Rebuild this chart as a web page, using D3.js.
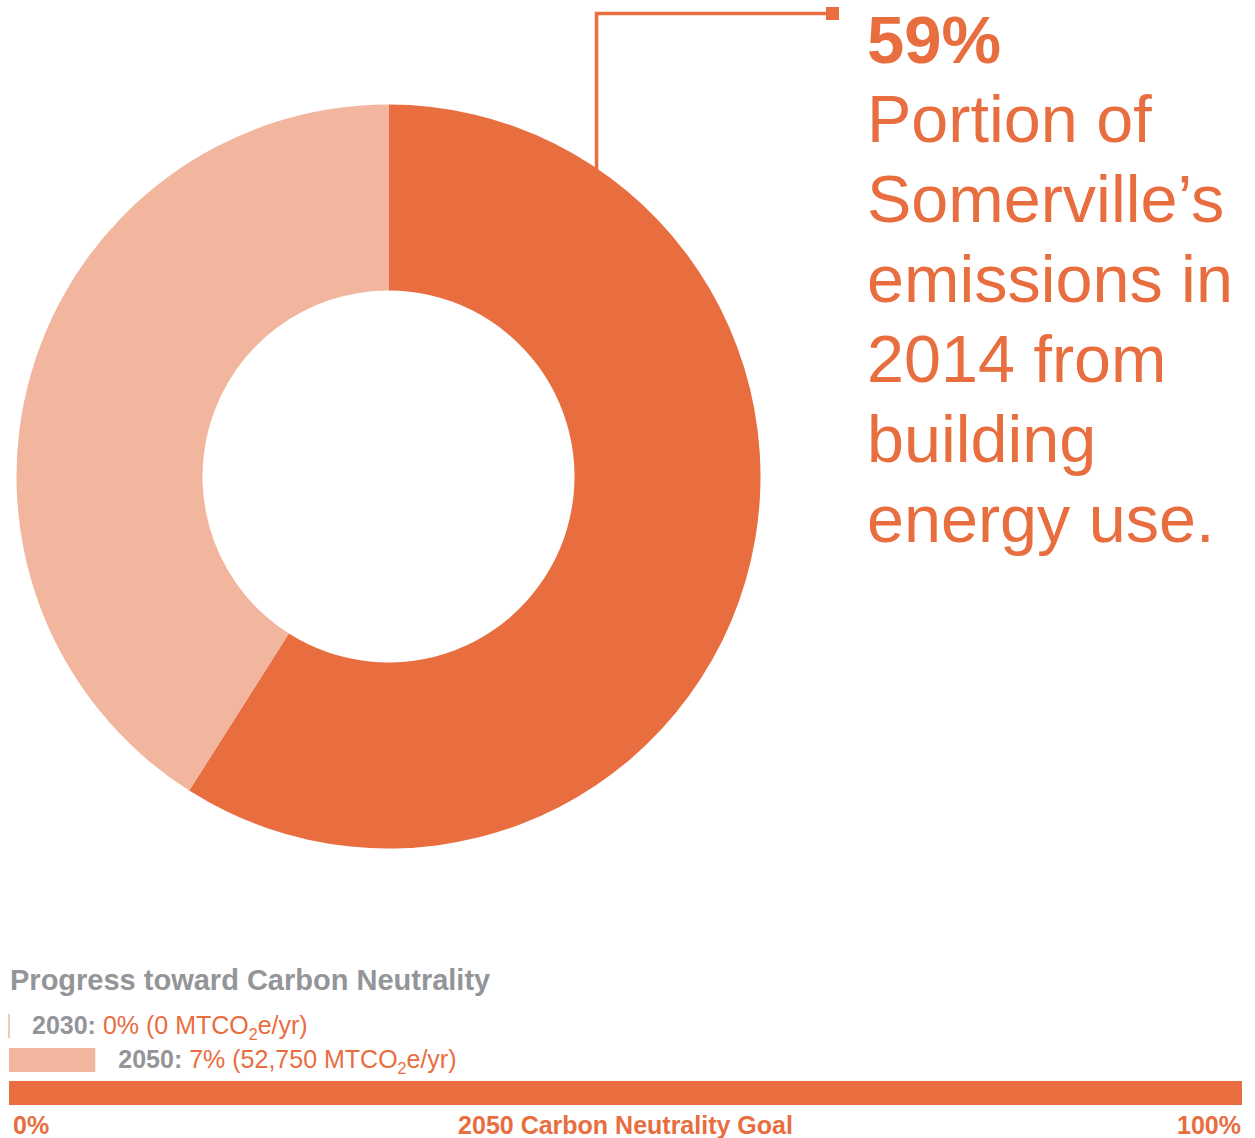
<!DOCTYPE html>
<html>
<head>
<meta charset="utf-8">
<script src="https://cdn.jsdelivr.net/npm/d3@7"></script>
<style>
  html, body { margin: 0; padding: 0; background: #fff; }
  svg { display: block; font-family: "Liberation Sans", Arial, Helvetica, sans-serif; }
</style>
</head>
<body>
<svg id="chart" width="1255" height="1138"></svg>
<script>
// Share of 2014 emissions from building energy use
const sectors = ["Building energy use", "Other sources"];
const shares = [59, 41];
const sectorColors = ["#e86d3f", "#f2b69e"];

// Headline text block
const headline = "59%";
const descriptionLines = ["Portion of", "Somerville\u2019s", "emissions in", "2014 from", "building", "energy use."];

// Progress toward carbon neutrality
const progressYears = ["2030", "2050"];
const progressPct = [0, 7];
const progressTonnes = ["0", "52,750"];
const progressColors = ["#f2b69e", "#f2b69e"];
const goalTicks = ["0%", "2050 Carbon Neutrality Goal", "100%"];

const ORANGE = "#e86d3f";
const GRAY = "#939598";

const svg = d3.select("#chart");

// ---- Donut ----
const cx = 388.5, cy = 476.5, outerR = 372, innerR = 186;
const pie = d3.pie().sort(null).value(d => d);
const arcs = pie(shares);
const arc = d3.arc().innerRadius(innerR).outerRadius(outerR);

const donut = svg.append("g").attr("transform", `translate(${cx},${cy})`);
donut.selectAll("path")
  .data(arcs)
  .join("path")
  .attr("d", arc)
  .attr("fill", (d, i) => sectorColors[i]);

// Leader line from the outer edge of the main slice up to the headline
const leaderAngle = 0.5935; // radians from 12 o'clock, on the building slice
const startX = cx + outerR * Math.sin(leaderAngle);
const startY = cy - outerR * Math.cos(leaderAngle);
const elbowY = 13.5, endX = 832.5;
svg.append("path")
  .attr("d", `M${startX},${startY + 2}V${elbowY}H${endX}`)
  .attr("fill", "none")
  .attr("stroke", ORANGE)
  .attr("stroke-width", 3.5);
svg.append("rect")
  .attr("x", endX - 6.5).attr("y", elbowY - 6.5)
  .attr("width", 13).attr("height", 13)
  .attr("fill", ORANGE);

// Headline and description
const textX = 867;
svg.append("text")
  .attr("x", textX).attr("y", 63)
  .attr("fill", ORANGE)
  .attr("font-size", 67).attr("font-weight", "bold")
  .text(headline);
svg.append("g").selectAll("text")
  .data(descriptionLines)
  .join("text")
  .attr("x", textX)
  .attr("y", (d, i) => 142 + i * 80)
  .attr("fill", ORANGE)
  .attr("font-size", 66.5)
  .text(d => d);

// ---- Progress bars ----
const x = d3.scaleLinear().domain([0, 100]).range([9, 1242]);

svg.append("text")
  .attr("x", 10).attr("y", 990)
  .attr("fill", GRAY)
  .attr("font-size", 29).attr("font-weight", "bold")
  .text("Progress toward Carbon Neutrality");

const rowTop = [1014, 1048];
const rowH = 24;
progressYears.forEach((yr, i) => {
  const w = x(progressPct[i]) - x(0);
  if (w > 0) {
    svg.append("rect")
      .attr("x", x(0)).attr("y", rowTop[i])
      .attr("width", w).attr("height", rowH)
      .attr("fill", progressColors[i]);
  } else {
    svg.append("line")
      .attr("x1", x(0)).attr("x2", x(0))
      .attr("y1", rowTop[i]).attr("y2", rowTop[i] + rowH)
      .attr("stroke", progressColors[i]).attr("stroke-width", 1.5);
  }
  const t = svg.append("text")
    .attr("x", x(progressPct[i]) + 23)
    .attr("y", rowTop[i] + 20)
    .attr("font-size", 25);
  t.append("tspan").attr("fill", GRAY).attr("font-weight", "bold").text(yr + ": ");
  t.append("tspan").attr("fill", ORANGE).text(`${progressPct[i]}% (${progressTonnes[i]} MTCO`);
  t.append("tspan").attr("fill", ORANGE).attr("font-size", 16).attr("dy", 6).text("2");
  t.append("tspan").attr("fill", ORANGE).attr("dy", -6).text("e/yr)");
});

// Full-width goal bar
svg.append("rect")
  .attr("x", x(0)).attr("y", 1081)
  .attr("width", x(100) - x(0)).attr("height", 24)
  .attr("fill", ORANGE);

const tickX = [x(0) + 4, (x(0) + x(100)) / 2, x(100) - 1];
const anchors = ["start", "middle", "end"];
svg.append("g").selectAll("text")
  .data(goalTicks)
  .join("text")
  .attr("x", (d, i) => tickX[i])
  .attr("y", 1134)
  .attr("text-anchor", (d, i) => anchors[i])
  .attr("fill", ORANGE)
  .attr("font-size", 25).attr("font-weight", "bold")
  .text(d => d);
</script>
</body>
</html>
